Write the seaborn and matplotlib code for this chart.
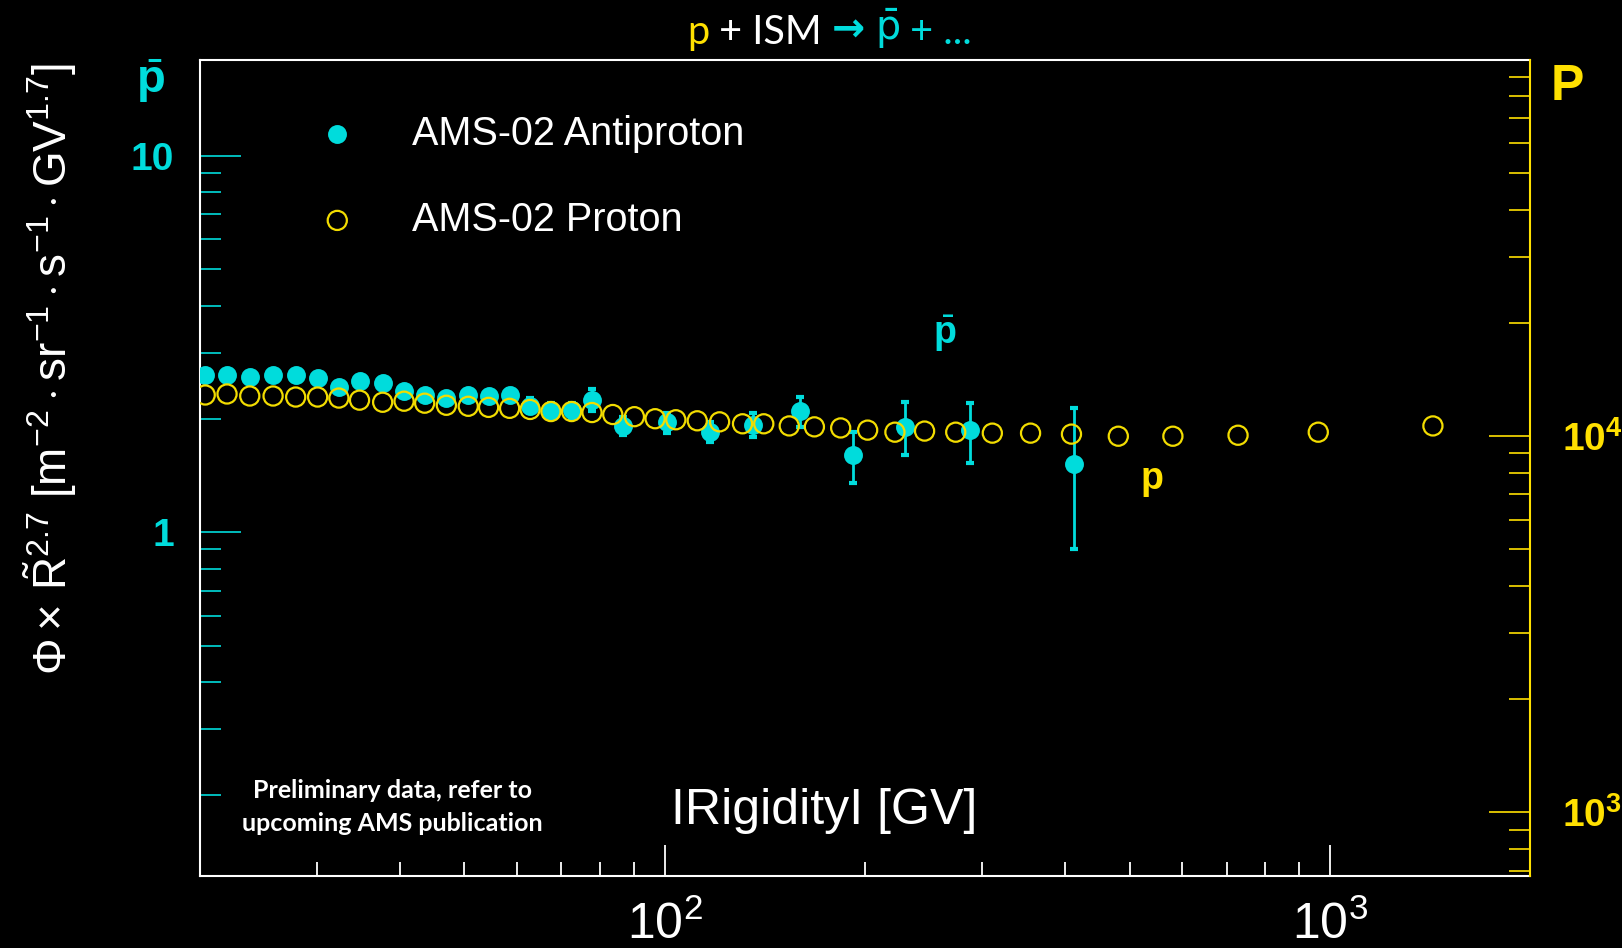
import numpy as np
import matplotlib
matplotlib.use("Agg")
import matplotlib.pyplot as plt
import seaborn as sns
from matplotlib import font_manager
from matplotlib.ticker import LogLocator, NullFormatter

# ---------------- data ----------------
rigidity_pbar = [20.4, 22.0, 23.8, 25.8, 27.9, 30.1, 32.4, 34.8, 37.7, 40.6,
                 43.6, 47.0, 50.7, 54.4, 58.5, 62.8, 67.5, 72.5, 77.8, 86.7,
                 101, 117, 136, 160, 192, 230, 288, 413]
flux_pbar = [2.61, 2.62, 2.59, 2.61, 2.61, 2.57, 2.43, 2.52, 2.49, 2.38,
             2.31, 2.27, 2.32, 2.30, 2.32, 2.17, 2.10, 2.11, 2.25, 1.92,
             1.96, 1.85, 1.93, 2.10, 1.60, 1.91, 1.87, 1.52]
err_pbar = [0.05, 0.05, 0.05, 0.05, 0.05, 0.06, 0.06, 0.06, 0.06, 0.07,
            0.07, 0.07, 0.07, 0.08, 0.08, 0.10, 0.10, 0.10, 0.15, 0.11,
            0.12, 0.11, 0.14, 0.19, 0.25, 0.31, 0.34, 0.62]

rigidity_p = [20.4, 22.0, 23.8, 25.8, 27.9, 30.1, 32.4, 34.8, 37.7, 40.6,
              43.6, 47.0, 50.7, 54.4, 58.5, 62.8, 67.5, 72.5, 77.8, 83.6,
              90.1, 96.8, 104, 112, 121, 131, 141, 154, 168, 184,
              202, 222, 246, 274, 311, 355, 409, 481, 581, 728, 961, 1429]
flux_p = [12870, 12950, 12790, 12790, 12710, 12710, 12630, 12470, 12310, 12390,
          12240, 12085, 12010, 11930, 11860, 11780, 11630, 11630, 11560, 11420,
          11270, 11130, 11060, 10990, 10920, 10790, 10790, 10650, 10590, 10520,
          10380, 10250, 10320, 10250, 10190, 10190, 10130, 10000, 10000, 10060,
          10250, 10650]

legend_labels = ["AMS-02 Antiproton", "AMS-02 Proton"]
xtick_values = [100, 1000]
xtick_labels = [r"$\mathrm{10^{2}}$", r"$\mathrm{10^{3}}$"]
left_tick_values = [1, 10]
left_tick_labels = ["1", "10"]
right_tick_values = [1e3, 1e4]
right_tick_labels = [r"$\mathbf{10^{3}}$", r"$\mathbf{10^{4}}$"]
xlabel_text = "IRigidityI [GV]"
ylabel_text = (r"$\Phi\times\,\tilde{\mathrm{R}}^{2.7}\ [\mathrm{m}^{-2}\cdot"
               r"\mathrm{sr}^{-1}\cdot\mathrm{s}^{-1}\cdot\mathrm{GV}^{1.7}]$")
note_text = "Preliminary data, refer to\nupcoming AMS publication"

# ---------------- style ----------------
CYAN = "#00DCDC"
YELLOW = "#FFE000"
YELLOW_MK = "#F2DC00"

names = {f.name for f in font_manager.fontManager.ttflist}
HAS_NARROW = "Liberation Sans Narrow" in names
NARROW = "Liberation Sans Narrow" if HAS_NARROW else "Liberation Sans"

sns.set_style("ticks", rc={"axes.facecolor": "black", "figure.facecolor": "black",
                           "axes.grid": False, "text.color": "white"})
plt.rcParams["font.family"] = ["Liberation Sans", "DejaVu Sans"]
plt.rcParams["mathtext.fontset"] = "custom"
plt.rcParams["mathtext.rm"] = NARROW
plt.rcParams["mathtext.it"] = NARROW + ":italic"
plt.rcParams["mathtext.bf"] = "Liberation Sans:bold"

fig = plt.figure(figsize=(16.22, 9.48), dpi=100)
ax = fig.add_axes([0.1230, 0.07595, 0.8203, 0.8608])
ax2 = ax.twinx()

SCALE = 5556.0
ax.set_xscale("log")
ax.set_yscale("log")
ax2.set_yscale("log")

# antiproton error bars + points
ax.errorbar(rigidity_pbar, flux_pbar, yerr=err_pbar, fmt="none", ecolor=CYAN,
            elinewidth=2, capsize=3, capthick=3, zorder=2)
sns.scatterplot(x=rigidity_pbar, y=flux_pbar, ax=ax, color=CYAN, s=185,
                linewidth=0, zorder=3, label=legend_labels[0], legend=False)
h1 = ax.collections[-1]

# proton open circles
sns.scatterplot(x=rigidity_p, y=flux_p, ax=ax2, s=190, marker="o",
                facecolors="none", edgecolors=YELLOW_MK, linewidths=1.6,
                zorder=3, label=legend_labels[1], legend=False)
h2 = ax2.collections[-1]
h2.set_facecolor("none")
h2.set_edgecolor(YELLOW_MK)

# ---------------- axes ----------------
xt_size = 40 if HAS_NARROW else 36
ax.set_xticks(xtick_values, labels=xtick_labels, fontsize=xt_size, color="white")
ax.xaxis.set_minor_locator(LogLocator(base=10, subs=np.arange(2, 10) * 1.0, numticks=100))
ax.xaxis.set_minor_formatter(NullFormatter())
ax.tick_params(axis="x", which="both", direction="in", colors="white", top=False, bottom=True)
ax.tick_params(axis="x", which="major", length=22, width=1.3, pad=18)
ax.tick_params(axis="x", which="minor", length=10, width=1.3)

ax.set_yticks(left_tick_values, labels=left_tick_labels, fontsize=28,
              fontweight="bold", color=CYAN)
ax.yaxis.set_minor_locator(LogLocator(base=10, subs=np.arange(2, 10) * 1.0, numticks=100))
ax.yaxis.set_minor_formatter(NullFormatter())
ax.tick_params(axis="y", which="both", direction="in", colors=CYAN, left=True, right=False)
ax.tick_params(axis="y", which="major", length=29.5, width=1.2, pad=18.4)
ax.tick_params(axis="y", which="minor", length=15, width=1.2)

ax2.set_yticks(right_tick_values, labels=right_tick_labels, fontsize=28, color=YELLOW)
ax2.yaxis.set_minor_locator(LogLocator(base=10, subs=np.arange(2, 10) * 1.0, numticks=100))
ax2.yaxis.set_minor_formatter(NullFormatter())
ax2.tick_params(axis="y", which="both", direction="in", colors=YELLOW, right=True, left=False)
ax2.tick_params(axis="y", which="major", length=29.5, width=1.2, pad=23)
ax2.tick_params(axis="y", which="minor", length=15, width=1.2)

ax.set_xlim(20, 2000)
ax.set_ylim(0.122, 18.0)
ax2.set_ylim(0.122 * SCALE, 18.0 * SCALE)

for s in ["left", "top", "bottom"]:
    ax.spines[s].set_color("white")
    ax.spines[s].set_linewidth(1.5)
ax.spines["right"].set_visible(False)
for s in ["left", "top", "bottom"]:
    ax2.spines[s].set_visible(False)
ax2.spines["right"].set_color(YELLOW)
ax2.spines["right"].set_linewidth(1.5)

# axis labels (ROOT style, inside the frame for x)
ax.set_xlabel(xlabel_text, fontsize=43 if HAS_NARROW else 36.1, color="white", family=NARROW)
ax.xaxis.label.set_va("center")
ax.xaxis.set_label_coords(0.4697, 0.0797)
ax.set_ylabel(ylabel_text, fontsize=36 if HAS_NARROW else 33, color="white")
ax.yaxis.label.set_va("center")
ax.yaxis.set_label_coords(-0.1120, 0.6213)

# legend
leg = ax2.legend(handles=[h1, h2], labels=legend_labels, loc="center left",
                 bbox_to_anchor=(0.0738, 0.857), frameon=False,
                 prop={"family": "Liberation Sans", "size": 28.5},
                 handlelength=2, handletextpad=0.9, labelspacing=1.22,
                 borderpad=0, borderaxespad=0, labelcolor="white")

# annotations
ax2.text(0.560, 0.664, r"$\bar{\mathbf{p}}$", transform=ax.transAxes, color=CYAN,
         fontsize=27, ha="center", va="center")
ax2.text(0.716, 0.484, r"$\mathbf{p}$", transform=ax.transAxes, color=YELLOW,
         fontsize=27, ha="center", va="center")
ax2.text(0.1447, 0.0846, note_text, transform=ax.transAxes, color="white",
         family="Lato", fontweight="bold", fontsize=18, ha="center", va="center",
         linespacing=1.55)

fig.text(0.0925, 0.9146, r"$\bar{\mathbf{p}}$", color=CYAN, fontsize=34,
         ha="center", va="center")
fig.text(0.966, 0.908, "P", color=YELLOW, fontsize=36, fontweight="bold",
         ha="center", va="center")

# title built from coloured pieces
TS = 28.5
t1 = fig.text(0.4235, 0.9535, "p", color=YELLOW, fontsize=TS, family="Lato",
              va="baseline", ha="left")
t2 = ax2.annotate(" + ISM ", xy=(1, 0), xycoords=t1, color="white", fontsize=TS,
                  family="Lato", va="bottom", ha="left", annotation_clip=False)
t3 = ax2.annotate("\u2192", xy=(1, 0), xycoords=t2, color=CYAN, fontsize=TS,
                  family="DejaVu Sans", fontweight="bold", va="bottom", ha="left",
                  annotation_clip=False)
t4 = ax2.annotate(" ", xy=(1, 0), xycoords=t3, color=CYAN, fontsize=TS,
                  family="Lato", va="bottom", ha="left", annotation_clip=False)
t5 = ax2.annotate(r"$\bar{\mathrm{p}}$", xy=(1, 0), xycoords=t4, color=CYAN,
                  fontsize=TS, va="bottom", ha="left", annotation_clip=False,
                  math_fontfamily="dejavusans")
t6 = ax2.annotate(" + ...", xy=(1, 0), xycoords=t5, color=CYAN, fontsize=TS,
                  family="Lato", va="bottom", ha="left", annotation_clip=False)

fig.savefig("out.png", dpi=100, facecolor="black")
